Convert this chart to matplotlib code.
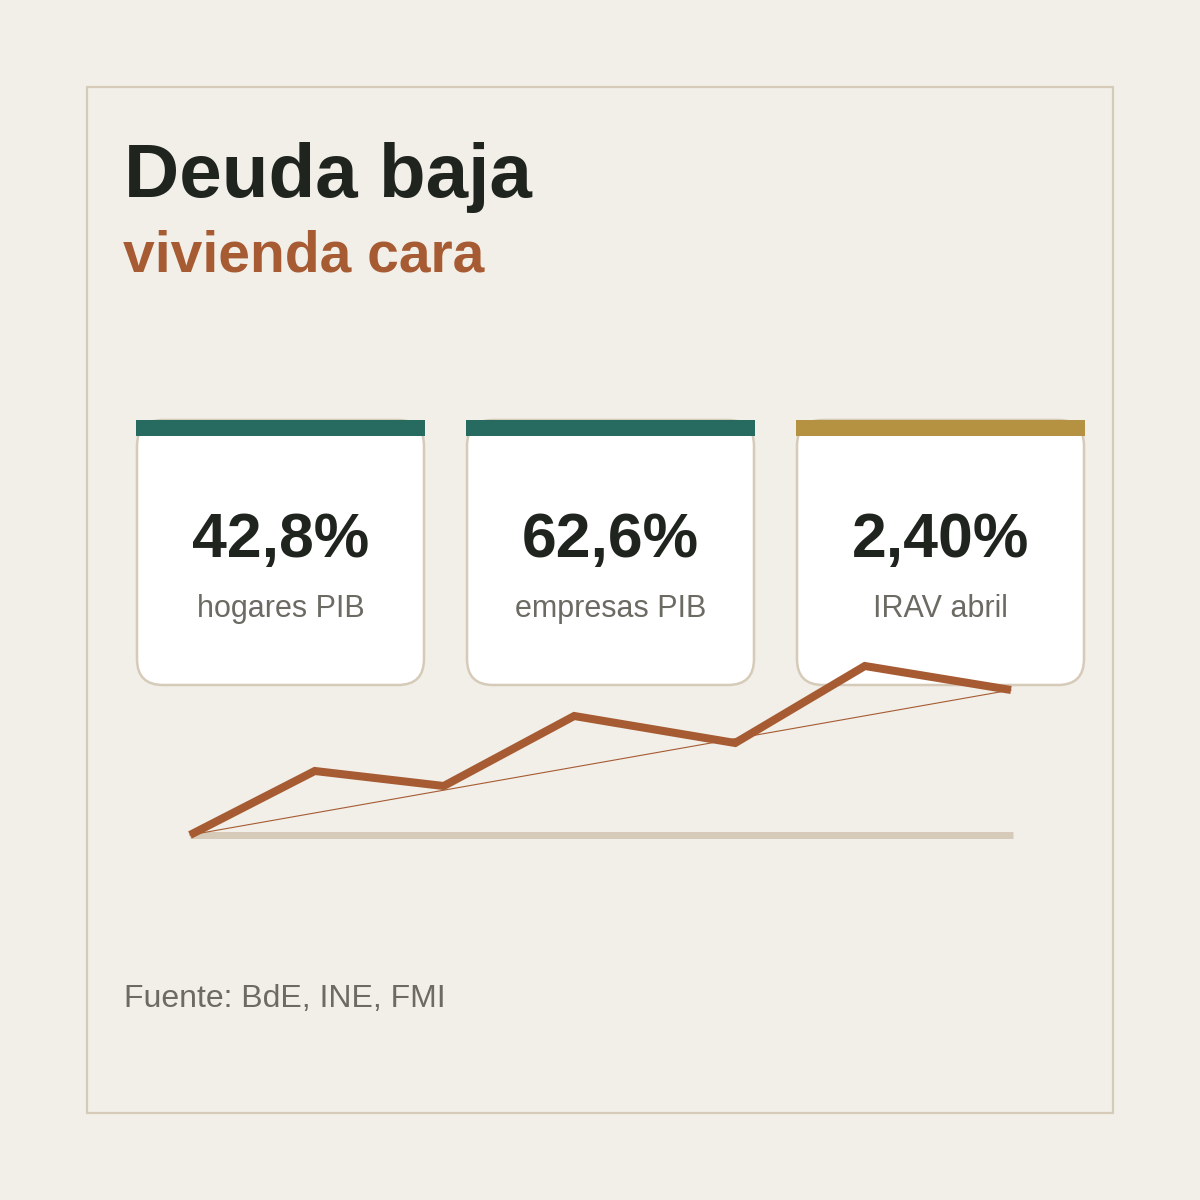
import matplotlib
matplotlib.use("Agg")
import matplotlib.pyplot as plt
from matplotlib.patches import Rectangle, FancyBboxPatch

plt.rcParams['font.family'] = ['Liberation Sans', 'DejaVu Sans']

# ---- data ----
title = "Deuda baja"
subtitle = "vivienda cara"
card_values = ["42,8%", "62,6%", "2,40%"]
card_labels = ["hogares PIB", "empresas PIB", "IRAV abril"]
card_colors = ["#276a5f", "#276a5f", "#b59242"]
series_x = [0, 15.2, 30.9, 46.8, 66.4, 82.2, 100]
series_y = [0, 64, 49, 119, 92, 169, 145]
source = "Fuente: BdE, INE, FMI"

BG = "#f2efe8"
BORDER = "#d6cbb9"
DARK = "#20241f"
RUST = "#a65b33"
GREY = "#6b6a63"

W = H = 1200
fig = plt.figure(figsize=(12, 12), dpi=100, facecolor=BG)
ax = fig.add_axes([0, 0, 1, 1])
ax.set_xlim(0, W)
ax.set_ylim(H, 0)
ax.axis('off')
ax.set_facecolor(BG)

# outer frame
ax.add_patch(Rectangle((87, 87), 1026, 1026, fill=False, edgecolor=BORDER, lw=1.6))

# titles
ax.text(124, 197, title, fontsize=55, fontweight='bold', color=DARK, va='baseline', ha='left')
ax.text(123, 271, subtitle, fontsize=41, fontweight='bold', color=RUST, va='baseline', ha='left')

# cards
card_left = [137, 467, 797]
cw = 287
for i, (val, lab, col) in enumerate(zip(card_values, card_labels, card_colors)):
    x0 = card_left[i]
    ax.add_patch(FancyBboxPatch((x0, 420), cw, 265,
                                boxstyle="round,pad=0,rounding_size=26",
                                facecolor="white", edgecolor=BORDER, lw=1.8, zorder=2))
    ax.add_patch(Rectangle((x0 - 1, 420), cw + 2, 16, facecolor=col, edgecolor='none', zorder=3))
    cx = x0 + cw / 2
    ax.text(cx, 557, val, fontsize=45, fontweight='bold', color=DARK,
            ha='center', va='baseline', zorder=4)
    ax.text(cx, 617, lab, fontsize=22, color=GREY, ha='center', va='baseline', zorder=4)

# source
ax.text(124, 1007, source, fontsize=23, color=GREY, ha='left', va='baseline')

# line chart
left_px, right_px = 190, 1011
base_px, top_px = 835, 666
lax = fig.add_axes([left_px / W, 1 - base_px / H, (right_px - left_px) / W, (base_px - top_px) / H])
lax.set_zorder(5)
lax.patch.set_alpha(0)
lax.axis('off')
lax.set_xlim(series_x[0], series_x[-1])
lax.set_ylim(0, max(series_y))
lax.plot([series_x[0], series_x[-1] + 0.2], [0, 0], color=BORDER, lw=5,
         solid_capstyle='butt', clip_on=False, zorder=1)
lax.plot([series_x[0], series_x[-1]], [series_y[0], series_y[-1]], color=RUST, lw=0.8,
         clip_on=False, zorder=2)
lax.plot(series_x, series_y, color=RUST, lw=5.8, solid_joinstyle='miter',
         solid_capstyle='butt', clip_on=False, zorder=3)

fig.savefig("out.png", dpi=100, facecolor=BG)
